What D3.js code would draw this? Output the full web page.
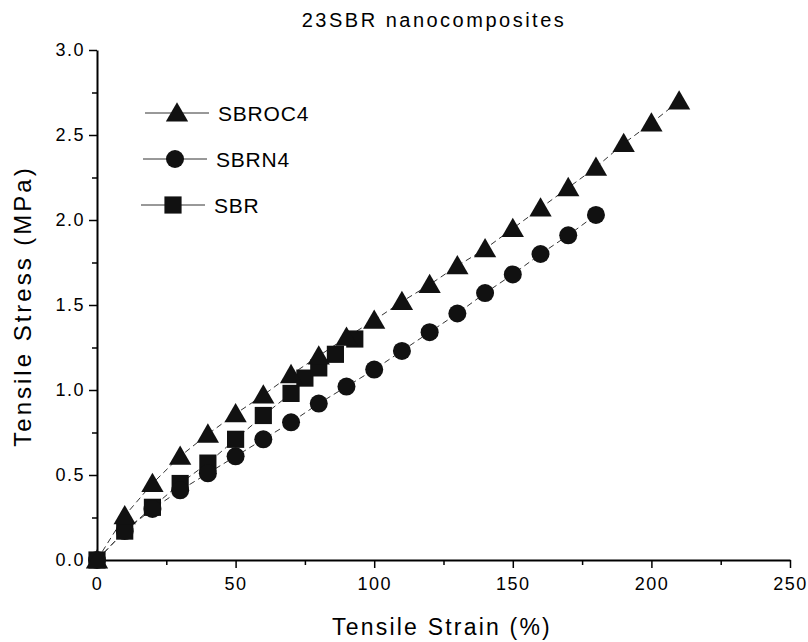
<!DOCTYPE html>
<html>
<head>
<meta charset="utf-8">
<script src="https://cdn.jsdelivr.net/npm/d3@7/dist/d3.min.js"></script>
<style>
  html, body { margin: 0; padding: 0; background: #fff; }
  svg { display: block; }
  text { font-family: "Liberation Sans", Arial, sans-serif; fill: #000; }
</style>
</head>
<body>
<svg id="chart" width="808" height="642"></svg>
<script>
// Tensile stress-strain data for the 23SBR nanocomposite series
const strainSBROC4 = [0, 10, 20, 30, 40, 50, 60, 70, 80, 90, 100, 110, 120, 130, 140, 150, 160, 170, 180, 190, 200, 210];
const stressSBROC4 = [0, 0.26, 0.45, 0.61, 0.74, 0.86, 0.97, 1.09, 1.20, 1.31, 1.41, 1.52, 1.62, 1.73, 1.83, 1.95, 2.07, 2.19, 2.31, 2.45, 2.57, 2.70];

const strainSBRN4 = [0, 10, 20, 30, 40, 50, 60, 70, 80, 90, 100, 110, 120, 130, 140, 150, 160, 170, 180];
const stressSBRN4 = [0, 0.17, 0.30, 0.41, 0.51, 0.61, 0.71, 0.81, 0.92, 1.02, 1.12, 1.23, 1.34, 1.45, 1.57, 1.68, 1.80, 1.91, 2.03];

const strainSBR = [0, 10, 20, 30, 40, 50, 60, 70, 75, 80, 86, 93];
const stressSBR = [0, 0.17, 0.31, 0.45, 0.57, 0.71, 0.85, 0.98, 1.07, 1.13, 1.21, 1.30];

const xTicks = [0, 50, 100, 150, 200, 250];
const yTicks = [0.0, 0.5, 1.0, 1.5, 2.0, 2.5, 3.0];
const legendNames = ["SBROC4", "SBRN4", "SBR"];

const svg = d3.select("#chart");
const plotLeft = 97, plotRight = 790, plotTop = 50, plotBottom = 560;

const x = d3.scaleLinear().domain([0, 250]).range([plotLeft, plotRight]);
const y = d3.scaleLinear().domain([0, 3]).range([plotBottom, plotTop]);

// Title
svg.append("text")
  .attr("x", 434).attr("y", 27)
  .attr("text-anchor", "middle")
  .style("font-size", "20px").style("letter-spacing", "2.5px")
  .text("23SBR nanocomposites");

// X axis: minor ticks, then major ticks with labels
const xMinor = svg.append("g").attr("transform", `translate(0,${plotBottom})`)
  .call(d3.axisBottom(x).tickValues(d3.range(25, 250, 50)).tickSize(5).tickFormat(""));
xMinor.select(".domain").remove();
xMinor.selectAll("line").attr("stroke-width", 1.5);
const xMajor = svg.append("g").attr("transform", `translate(0,${plotBottom})`)
  .call(d3.axisBottom(x).tickValues(xTicks).tickSize(8).tickSizeOuter(0).tickPadding(9).tickFormat(d3.format("d")));
xMajor.select(".domain").attr("stroke-width", 2);
xMajor.selectAll("line").attr("stroke-width", 1.5);
xMajor.selectAll("text").style("font-size", "18px").style("letter-spacing", "1.5px").attr("font-family", null);

// Y axis
const yMinor = svg.append("g").attr("transform", `translate(${plotLeft},0)`)
  .call(d3.axisLeft(y).tickValues(d3.range(0.25, 3, 0.5)).tickSize(5).tickFormat(""));
yMinor.select(".domain").remove();
yMinor.selectAll("line").attr("stroke-width", 1.5);
const yMajor = svg.append("g").attr("transform", `translate(${plotLeft},0)`)
  .call(d3.axisLeft(y).tickValues(yTicks).tickSize(8).tickSizeOuter(0).tickPadding(4).tickFormat(d3.format(".1f")));
yMajor.select(".domain").attr("stroke-width", 2);
yMajor.selectAll("line").attr("stroke-width", 1.5);
yMajor.selectAll("text").style("font-size", "18px").style("letter-spacing", "1.5px").attr("font-family", null);

// Axis titles
svg.append("text")
  .attr("x", 442).attr("y", 635)
  .attr("text-anchor", "middle")
  .style("font-size", "23px").style("letter-spacing", "2.2px")
  .text("Tensile Strain (%)");
svg.append("text")
  .attr("transform", "translate(31,306) rotate(-90)")
  .attr("text-anchor", "middle")
  .style("font-size", "24px").style("letter-spacing", "3px")
  .text("Tensile Stress (MPa)");

const series = [
  { name: legendNames[0], xs: strainSBROC4, ys: stressSBROC4, shape: d3.symbolTriangle, size: 215 },
  { name: legendNames[1], xs: strainSBRN4, ys: stressSBRN4, shape: d3.symbolCircle, size: 255 },
  { name: legendNames[2], xs: strainSBR, ys: stressSBR, shape: d3.symbolSquare, size: 295 }
];

const line = d3.line().x(d => x(d[0])).y(d => y(d[1]));
const plot = svg.append("g");

series.forEach(s => {
  const pts = s.xs.map((v, i) => [v, s.ys[i]]);
  plot.append("path")
    .datum(pts)
    .attr("d", line)
    .attr("fill", "none")
    .attr("stroke", "#333")
    .attr("stroke-width", 1)
    .attr("stroke-dasharray", "6,4");
});

// Markers drawn after all lines so they sit on top
[series[2], series[1], series[0]].forEach(s => {
  const sym = d3.symbol().type(s.shape).size(s.size);
  plot.selectAll(null)
    .data(s.xs.map((v, i) => [v, s.ys[i]]))
    .join("path")
    .attr("d", sym)
    .attr("transform", d => `translate(${x(d[0])},${y(d[1]) + (s.shape === d3.symbolTriangle ? 2 : 0)})`)
    .attr("fill", "#111");
});

// Legend
const legend = svg.append("g");
const legendRows = [
  { s: series[0], cx: 177, cy: 113 },
  { s: series[1], cx: 175, cy: 159 },
  { s: series[2], cx: 173, cy: 205 }
];
legendRows.forEach(r => {
  legend.append("line").attr("x1", r.cx - 32).attr("x2", r.cx + 32)
    .attr("y1", r.cy).attr("y2", r.cy)
    .attr("stroke", "#333").attr("stroke-width", 1);
  legend.append("path")
    .attr("d", d3.symbol().type(r.s.shape).size(r.s.size)())
    .attr("transform", `translate(${r.cx},${r.cy + (r.s.shape === d3.symbolTriangle ? 2 : 0)})`)
    .attr("fill", "#111");
  legend.append("text")
    .attr("x", r.cx + 41).attr("y", r.cy + 8)
    .style("font-size", "21px").style("letter-spacing", "0.8px")
    .text(r.s.name);
});
</script>
</body>
</html>
